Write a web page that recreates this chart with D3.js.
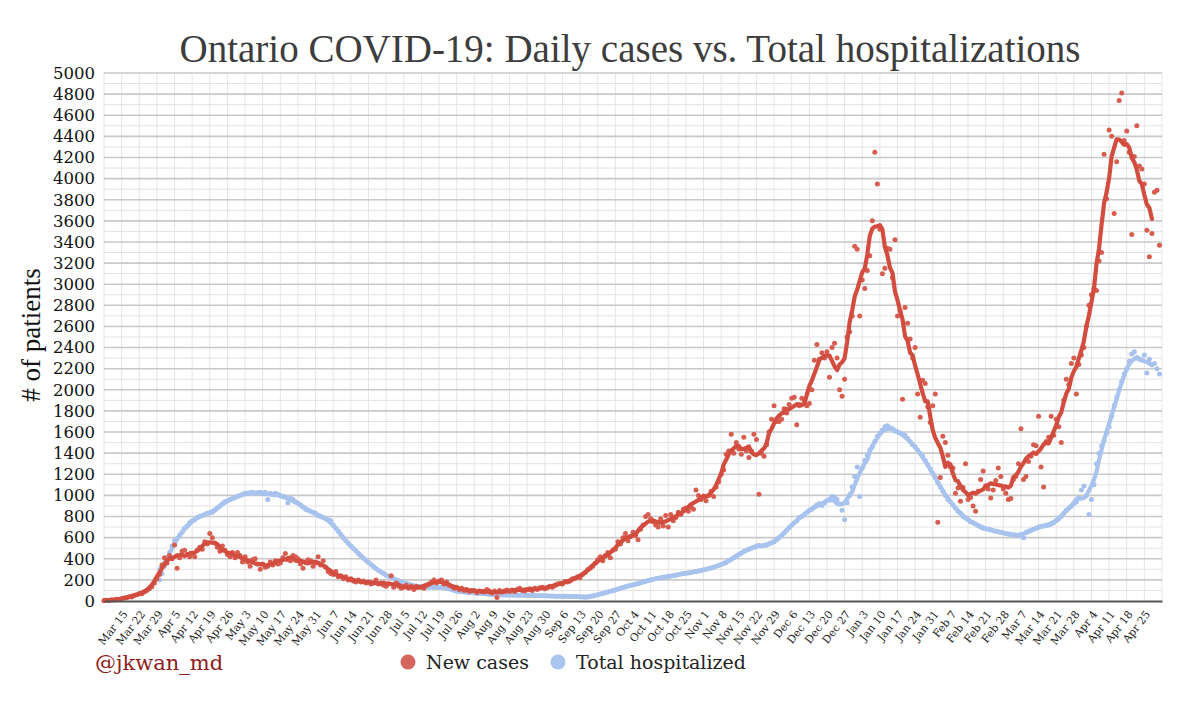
<!DOCTYPE html>
<html><head><meta charset="utf-8">
<script src="https://cdn.jsdelivr.net/npm/d3@7"></script>
<style>
html,body{margin:0;padding:0;background:#fff;}
svg{display:block;}
</style></head>
<body>
<svg id="chart" width="1200" height="704"></svg>
<script>
// ---------------- DATA ----------------
const startDate = "2020-03-08"; // first day of the daily series (Sunday)
const endDate = "2021-05-02";   // right edge of the time axis

// Daily new cases, one row per week starting Sunday (Mar 8 2020 .. May 1 2021)
const newCases = [
  3, 7, 5, 12, 9, 16, 14,
  22, 28, 30, 41, 38, 55, 60,
  72, 68, 85, 100, 115, 135, 170,
  210, 250, 340, 410, 360, 430, 400,
  530, 310, 410, 470, 480, 440, 420,
  450, 420, 480, 510, 490, 560, 540,
  640, 600, 550, 510, 470, 520, 480,
  440, 420, 460, 410, 460, 430, 370,
  420, 370, 330, 390, 400, 350, 300,
  350, 320, 330, 370, 340, 380, 350,
  360, 410, 450, 390, 380, 430, 420,
  400, 350, 310, 370, 390, 380, 330,
  360, 420, 340, 380, 320, 280, 260,
  250, 280, 230, 240, 210, 230, 200,
  210, 190, 180, 200, 180, 190, 170,
  180, 160, 170, 200, 160, 170, 150,
  140, 160, 240, 130, 170, 140, 120,
  130, 150, 120, 140, 110, 140, 130,
  130, 120, 150, 160, 180, 200, 170,
  190, 200, 160, 180, 150, 140, 120,
  130, 110, 120, 100, 110, 90, 100,
  100, 80, 95, 90, 85, 110, 95,
  75, 95, 33, 100, 85, 95, 105,
  90, 105, 90, 110, 120, 100, 95,
  110, 115, 100, 120, 110, 125, 130,
  115, 125, 140, 130, 150, 160, 165,
  160, 185, 180, 190, 210, 215, 230,
  220, 250, 270, 295, 310, 330, 360,
  390, 420, 380, 430, 460, 410, 480,
  490, 560, 540, 600, 640, 570, 610,
  650, 620, 580, 680, 720, 800, 820,
  780, 750, 720, 700, 780, 710, 810,
  700, 820, 760, 790, 840, 820, 870,
  880, 850, 890, 870, 1050, 1000, 960,
  980, 950, 1000, 1040, 990, 1080, 1130,
  1200, 1240, 1390, 1420, 1580, 1400, 1500,
  1440, 1390, 1550, 1420, 1360, 1420, 1580,
  1530, 1010, 1400, 1370, 1480, 1600, 1720,
  1850, 1700, 1700, 1720, 1820, 1780, 1860,
  1920, 1930, 1670, 1850, 1920, 1900, 1850,
  1870, 2000, 2280, 2430, 2290, 2350, 2300,
  2360, 2120, 2400, 2440, 2300, 2000, 1940,
  2100, 2500, 2550, 2700, 3360, 3330, 2700,
  3040, 2960, 3130, 3270, 3600, 4250, 3950,
  3520, 3100, 3150, 3340, 3330, 3060, 3420,
  2700, 2750, 1910, 2780, 2630, 2480, 2300,
  2400, 1960, 1740, 2090, 2060, 1840, 1690,
  1850, 1960, 745, 1170, 1560, 1500, 1380,
  1270, 1260, 1020, 1070, 945, 1075, 1300,
  960, 980, 900, 850, 1040, 1150, 1230,
  1090, 1060, 975, 1050, 1140, 1260, 1180,
  1060, 1020, 960, 970, 1150, 1180, 1300,
  1630, 1150, 1180, 1320, 1370, 1480, 1470,
  1750, 1270, 1080, 1510, 1550, 1750, 1570,
  1720, 1650, 1500, 1900, 2100, 2050, 2250,
  2300, 1960, 2240, 2330, 2400, 2600, 2800,
  2900, 2960, 2940, 3220, 3300, 4230, 3810,
  4460, 4400, 3670, 4160, 4740, 4810, 4360,
  4450, 4250, 3470, 4210, 4500, 4120, 4090,
  3950, 3510, 3260, 3480, 3870, 3890, 3370
];

// Daily total hospitalized (same calendar; null before reporting began)
const totalHospitalized = [
  null, null, null, null, null, null, null,
  null, null, null, null, null, null, null,
  null, null, null, null, null, null, null,
  null, 200, 260, 330, 400, 460, 520,
  570, 590, 620, 650, 690, 710, 740,
  760, 770, 790, 800, 810, 820, 830,
  835, 840, 860, 880, 900, 920, 940,
  950, 960, 970, 980, 990, 1000, 1010,
  1020, 1020, 1025, 1030, 1020, 1025, 1030,
  1020, 1030, 960, 1020, 1010, 1020, 1010,
  1000, 990, 985, 930, 975, 960, 940,
  925, 910, 890, 870, 860, 850, 840,
  830, 810, 800, 790, 780, 770, 760,
  720, 690, 660, 630, 600, 570, 545,
  520, 500, 475, 450, 425, 405, 385,
  365, 345, 325, 305, 290, 275, 260,
  245, 235, 225, 210, 200, 190, 180,
  172, 165, 158, 150, 145, 140, 137,
  135, 133, 130, 130, 132, 128, 130,
  128, 132, 125, 120, 115, 108, 100,
  95, 90, 88, 85, 82, 80, 78,
  76, 74, 72, 70, 68, 66, 65,
  64, 62, 60, 60, 58, 58, 57,
  57, 56, 55, 55, 54, 54, 53,
  53, 52, 52, 51, 50, 50, 49,
  49, 48, 48, 47, 46, 46, 45,
  45, 44, 44, 43, 43, 42, 42,
  40, 38, 36, 38, 42, 48, 55,
  60, 66, 72, 78, 85, 92, 98,
  105, 112, 120, 128, 135, 142, 148,
  152, 158, 165, 172, 180, 188, 195,
  200, 205, 210, 215, 220, 225, 228,
  232, 236, 240, 245, 250, 255, 260,
  262, 266, 270, 275, 280, 285, 290,
  295, 300, 305, 312, 320, 328, 335,
  345, 355, 365, 380, 395, 410, 425,
  440, 455, 470, 480, 490, 500, 510,
  520, 525, 520, 525, 530, 540, 550,
  560, 580, 600, 620, 645, 670, 695,
  720, 740, 760, 790, 800, 820, 840,
  860, 870, 890, 910, 920, 905, 930,
  950, 960, 990, 980, 960, 920, 860,
  770, 930, 1000, 1080, 1180, 1270, 990,
  1260, 1330, 1380, 1430, 1460, 1510, 1560,
  1590, 1620, 1650, 1660, 1640, 1630, 1610,
  1600, 1590, 1580, 1570, 1540, 1510, 1480,
  1460, 1430, 1400, 1370, 1330, 1290, 1250,
  1210, 1170, 1120, 1080, 1040, 1000, 960,
  940, 910, 880, 850, 830, 800, 785,
  770, 750, 740, 730, 715, 700, 690,
  685, 680, 675, 665, 660, 655, 650,
  645, 640, 635, 630, 625, 625, 620,
  630, 600, 650, 660, 670, 680, 690,
  700, 705, 710, 715, 720, 730, 740,
  760, 780, 800, 830, 860, 880, 900,
  920, 940, 970, 1050, 1090, 1000, 820,
  960, 1100, 1300, 1400, 1470, 1520, 1590,
  1650, 1750, 1850, 1930, 2000, 2080, 2150,
  2200, 2270, 2340, 2360, 2300, 2290, 2280,
  2330, 2160, 2290, 2240, 2250, 2200, 2150
];

const xTickLabels = ["Mar 15","Mar 22","Mar 29","Apr 5","Apr 12","Apr 19","Apr 26","May 3","May 10","May 17","May 24","May 31","Jun 7","Jun 14","Jun 21","Jun 28","Jul 5","Jul 12","Jul 19","Jul 26","Aug 2","Aug 9","Aug 16","Aug 23","Aug 30","Sep 6","Sep 13","Sep 20","Sep 27","Oct 4","Oct 11","Oct 18","Oct 25","Nov 1","Nov 8","Nov 15","Nov 22","Nov 29","Dec 6","Dec 13","Dec 20","Dec 27","Jan 3","Jan 10","Jan 17","Jan 24","Jan 31","Feb 7","Feb 14","Feb 21","Feb 28","Mar 7","Mar 14","Mar 21","Mar 28","Apr 4","Apr 11","Apr 18","Apr 25"];
const firstTickDate = "2020-03-15";
const yTickValues = [0,200,400,600,800,1000,1200,1400,1600,1800,2000,2200,2400,2600,2800,3000,3200,3400,3600,3800,4000,4200,4400,4600,4800,5000];
const seriesNames = ["New cases", "Total hospitalized"];

// ---------------- CHART ----------------
const DAY = 864e5;
const parse = d3.utcParse("%Y-%m-%d");
const t0 = parse(startDate), t1 = parse(endDate);
const dayDate = i => new Date(t0.getTime() + i * DAY);

const svg = d3.select("#chart");
const L = 104, R = 1162, T = 73, B = 601;
const x = d3.scaleUtc().domain([t0, t1]).range([L, R]);
const y = d3.scaleLinear().domain([0, 5000]).range([B, T]);

const RED = "#d24d3f", RED_DOT = "#d65d50";
const BLUE = "#a8c3ee", BLUE_DOT = "#a6c1ee";

// centered 7-day average
function smooth(arr) {
  const n = arr.length;
  return arr.map((v, i) => {
    if (v == null || i + 3 > n - 1) return null;
    let s = 0, c = 0;
    for (let k = i - 3; k <= i + 3; k++) {
      if (k >= 0 && k < n && arr[k] != null) { s += arr[k]; c++; }
    }
    return c ? s / c : null;
  });
}

// grid: vertical weekly lines
const weekLines = d3.utcWeek.range(t0, new Date(t1.getTime() + DAY));
svg.append("g").selectAll("line").data(weekLines).join("line")
  .attr("x1", d => x(d)).attr("x2", d => x(d))
  .attr("y1", T).attr("y2", B)
  .attr("stroke", "#e6e6e6").attr("stroke-width", 1);

// horizontal minor (every 100) and major (every 200)
const minorVals = yTickValues.slice(0, -1).map(v => v + 100);
svg.append("g").selectAll("line").data(minorVals).join("line")
  .attr("x1", L).attr("x2", R).attr("y1", d => y(d)).attr("y2", d => y(d))
  .attr("stroke", "#e3e3e3").attr("stroke-width", 1);
svg.append("g").selectAll("line").data(yTickValues.slice(1)).join("line")
  .attr("x1", L).attr("x2", R).attr("y1", d => y(d)).attr("y2", d => y(d))
  .attr("stroke", "#c9c9c9").attr("stroke-width", 1.6);

// series
const casesPts = newCases.map((v, i) => ({ d: dayDate(i), v }));
const hospPts = totalHospitalized.map((v, i) => ({ d: dayDate(i), v }));
const casesAvg = smooth(newCases).map((v, i) => ({ d: dayDate(i), v }));
const hospAvg = smooth(totalHospitalized).map((v, i) => ({ d: dayDate(i), v }));

const line = d3.line().defined(p => p.v != null).x(p => x(p.d)).y(p => y(p.v)).curve(d3.curveLinear);

// hospitalized (drawn first)
svg.append("g").selectAll("circle").data(hospPts.filter(p => p.v != null)).join("circle")
  .attr("cx", p => x(p.d)).attr("cy", p => y(p.v)).attr("r", 2.5).attr("fill", BLUE_DOT);
svg.append("path").datum(hospAvg).attr("d", line)
  .attr("fill", "none").attr("stroke", BLUE).attr("stroke-width", 4.2)
  .attr("stroke-linejoin", "round").attr("stroke-linecap", "round");

// new cases
svg.append("g").selectAll("circle").data(casesPts).join("circle")
  .attr("cx", p => x(p.d)).attr("cy", p => y(p.v)).attr("r", 2.5).attr("fill", RED_DOT);
svg.append("path").datum(casesAvg).attr("d", line)
  .attr("fill", "none").attr("stroke", RED).attr("stroke-width", 4.2)
  .attr("stroke-linejoin", "round").attr("stroke-linecap", "round");

// x axis
const tStart = parse(firstTickDate);
const xTickDates = xTickLabels.map((_, i) => new Date(tStart.getTime() + i * 7 * DAY));
const xAxis = d3.axisBottom(x).tickValues(xTickDates).tickSize(0)
  .tickFormat((d, i) => xTickLabels[i]);
const gx = svg.append("g").attr("transform", `translate(0,${B})`).call(xAxis);
gx.select(".domain").attr("stroke", "#555").attr("stroke-width", 2);
gx.selectAll("text")
  .attr("x", 0).attr("y", 0).attr("dy", "0.35em")
  .attr("transform", "translate(3,11) rotate(-52)")
  .attr("text-anchor", "end")
  .attr("fill", "#222")
  .style("font-family", "'DejaVu Serif', serif").style("font-size", "10.8px");

// y axis
const yAxis = d3.axisLeft(y).tickValues(yTickValues).tickSize(0).tickPadding(9)
  .tickFormat(d3.format("d"));
const gy = svg.append("g").attr("transform", `translate(${L},0)`).call(yAxis);
gy.select(".domain").remove();
gy.selectAll("text").attr("fill", "#111")
  .style("font-family", "'DejaVu Serif', serif").style("font-size", "16.5px");

// title
svg.append("text").attr("x", 630).attr("y", 62).attr("text-anchor", "middle")
  .attr("fill", "#3d3d3d")
  .style("font-family", "'Liberation Serif', serif").style("font-size", "39px")
  .text("Ontario COVID-19: Daily cases vs. Total hospitalizations");

// y label
svg.append("text").attr("transform", "translate(40,335) rotate(-90)")
  .attr("text-anchor", "middle").attr("fill", "#111")
  .style("font-family", "'Liberation Serif', serif").style("font-size", "27px")
  .text("# of patients");

// watermark
svg.append("text").attr("x", 95).attr("y", 670).attr("fill", "#8e1c1c")
  .style("font-family", "'DejaVu Serif', serif").style("font-size", "21px")
  .text("@jkwan_md");

// legend
const legendColors = ["#d4665f", "#a9c4f0"];
const legendX = [408, 558];
const lg = svg.append("g");
seriesNames.forEach((name, i) => {
  lg.append("circle").attr("cx", legendX[i]).attr("cy", 662).attr("r", 7.5).attr("fill", legendColors[i]);
  lg.append("text").attr("x", legendX[i] + 18).attr("y", 669).attr("fill", "#222")
    .style("font-family", "'DejaVu Serif', serif").style("font-size", "19px")
    .text(name);
});
</script>
</body></html>
